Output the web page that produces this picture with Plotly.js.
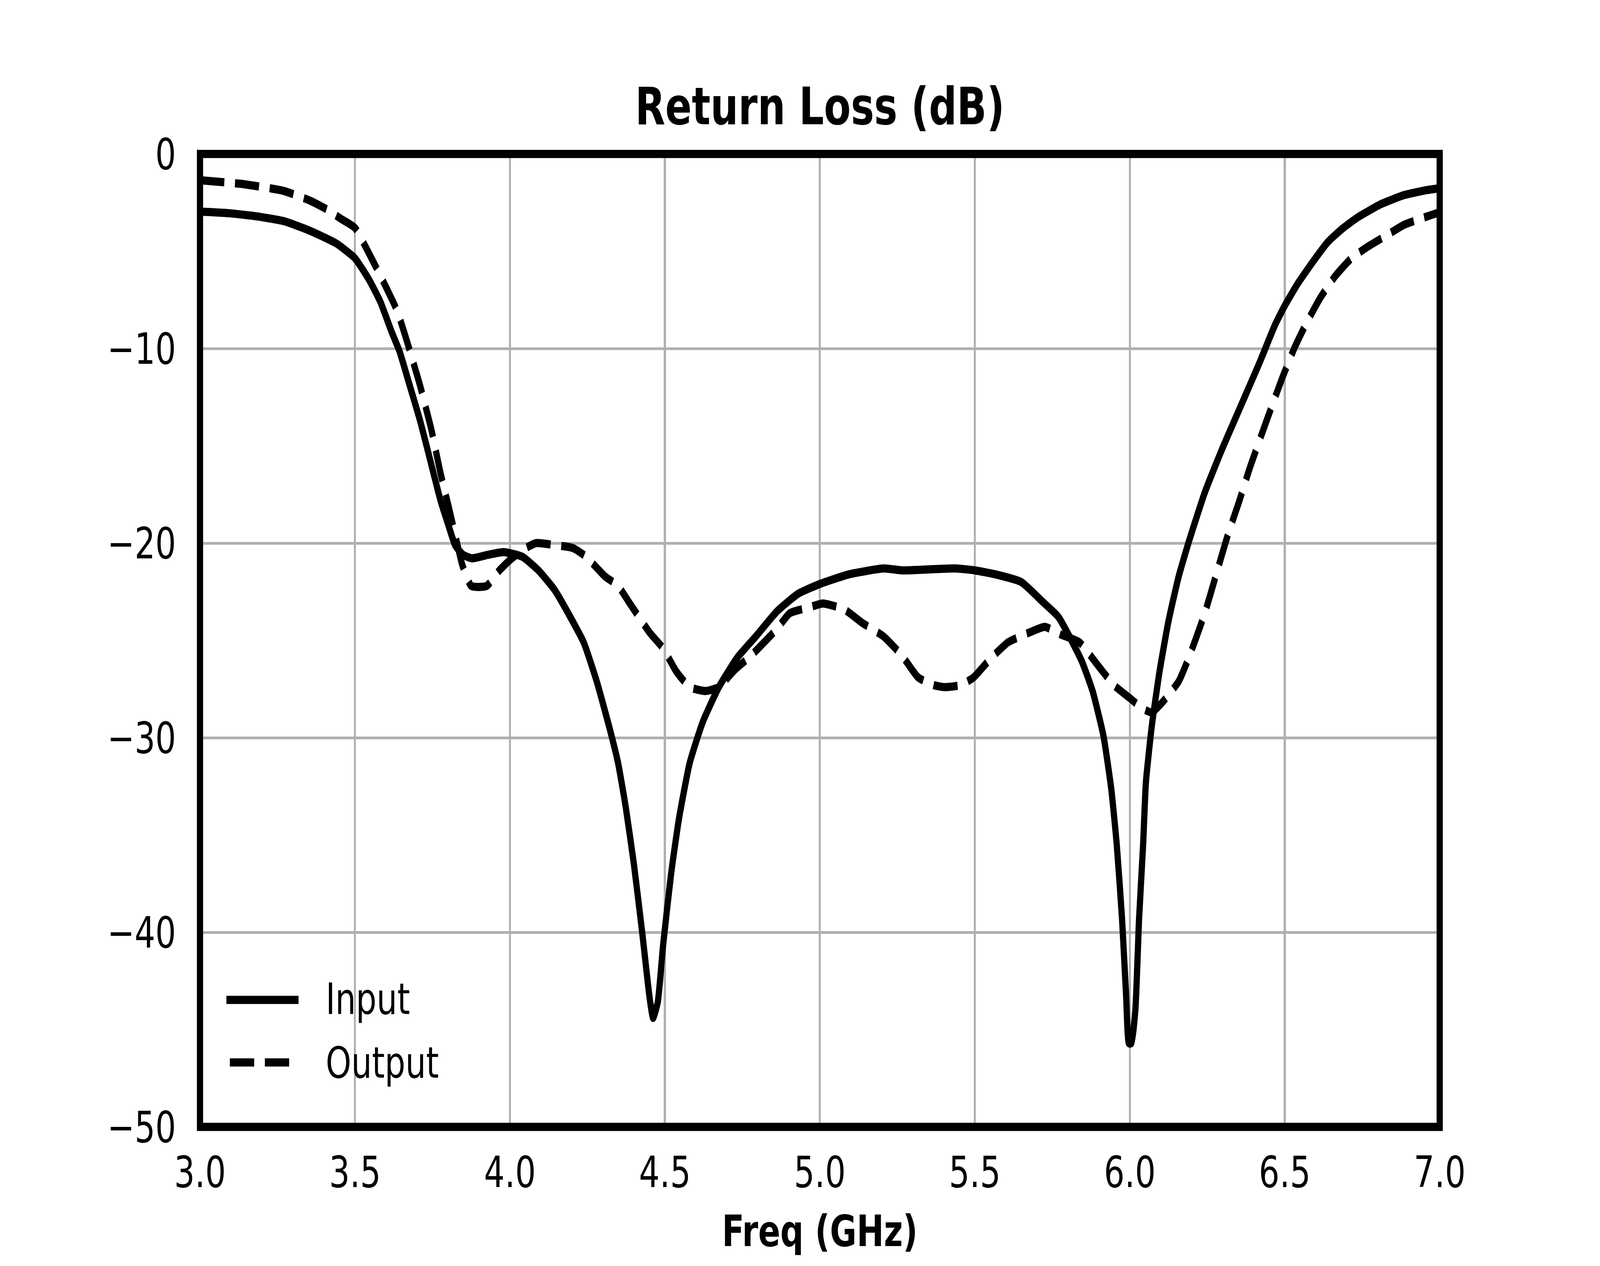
<!DOCTYPE html>
<html>
<head>
<meta charset="utf-8">
<script src="https://cdn.plot.ly/plotly-3.0.1.min.js"></script>
<style>
  html, body { margin:0; padding:0; background:#fff; overflow:hidden; }
  #chart { width:5400px; height:3240px; transform-origin:0 0; }
</style>
</head>
<body>
<div id="chart"></div>
<script>
// ═══════════════════════════════════════════
//  DATA — return loss
// ═══════════════════════════════════════════
const freqInput = [
  3.00, 3.09, 3.18, 3.27, 3.355, 3.44, 3.50, 3.545, 3.582, 3.618, 3.644, 3.673, 3.71, 3.747, 3.776,
  3.802, 3.823, 3.849, 3.878, 3.929, 3.98, 4.04, 4.092, 4.144, 4.195, 4.238, 4.28, 4.323, 4.349,
  4.374, 4.40, 4.426, 4.451, 4.462, 4.477, 4.494, 4.52, 4.545, 4.58, 4.622, 4.674, 4.733, 4.793,
  4.862, 4.93, 5.00, 5.095, 5.206, 5.266, 5.351, 5.437, 5.50, 5.565, 5.65, 5.718, 5.77, 5.812,
  5.846, 5.88, 5.915, 5.94, 5.958, 5.975, 5.988, 5.997, 6.005, 6.018, 6.03, 6.043, 6.052, 6.071,
  6.096, 6.125, 6.158, 6.191, 6.242, 6.297, 6.3705, 6.4194, 6.4682, 6.50, 6.5416, 6.5904, 6.6393,
  6.6882, 6.7371, 6.8104, 6.8837, 6.957, 7.00
];
const rlInput = [
  -2.96, -3.04, -3.2, -3.45, -3.95, -4.6, -5.36, -6.45, -7.6, -9.13, -10.15, -11.7, -13.7, -16.0, -17.8,
  -19.1, -20.1, -20.6, -20.78, -20.6, -20.46, -20.7, -21.4, -22.4, -23.8, -25.1, -27.1, -29.6, -31.3,
  -33.6, -36.5, -39.9, -43.4, -44.4, -43.6, -40.7, -37.0, -34.2, -31.3, -29.2, -27.4, -25.9, -24.8,
  -23.5, -22.6, -22.1, -21.6, -21.3, -21.4, -21.35, -21.3, -21.4, -21.6, -22.0, -23.0, -23.8, -25.0,
  -26.1, -27.6, -29.9, -32.6, -35.5, -39.3, -43.2, -45.7, -45.7, -44.0, -39.3, -35.5, -32.3, -29.4,
  -26.6, -24.0, -21.7, -19.9, -17.4, -15.2, -12.5, -10.7, -8.8, -7.8, -6.67, -5.55, -4.52,
  -3.81, -3.24, -2.58, -2.12, -1.86, -1.76
];

const freqOutput = [
  3.00, 3.14, 3.27, 3.355, 3.415, 3.4535, 3.50, 3.545, 3.60, 3.637, 3.673, 3.71, 3.747, 3.776, 3.802,
  3.831, 3.846, 3.875, 3.925, 3.966, 3.998, 4.041, 4.084, 4.144, 4.203, 4.246, 4.306, 4.349, 4.391,
  4.451, 4.494, 4.537, 4.58, 4.631, 4.674, 4.726, 4.777, 4.82, 4.862, 4.903, 4.967, 5.009, 5.078,
  5.137, 5.206, 5.266, 5.317, 5.368, 5.402, 5.454, 5.496, 5.547, 5.607, 5.675, 5.726, 5.778, 5.838,
  5.898, 5.949, 6.003, 6.041, 6.071, 6.104, 6.158, 6.195, 6.242, 6.279, 6.316, 6.352, 6.389, 6.4438,
  6.4927, 6.5318, 6.566, 6.6149, 6.6637, 6.7126, 6.7615, 6.825, 6.8837, 6.9668, 7.00
];
const rlOutput = [
  -1.35, -1.55, -1.9, -2.4, -2.9, -3.32, -3.8, -5.1, -6.83, -8.1, -9.9, -11.9, -14.2, -16.4, -18.1,
  -20.1, -21.1, -22.2, -22.2, -21.4, -20.9, -20.35, -20.0, -20.1, -20.25, -20.7, -21.7, -22.2, -23.2,
  -24.6, -25.4, -26.6, -27.4, -27.6, -27.4, -26.5, -25.8, -25.1, -24.4, -23.6, -23.3, -23.1, -23.4,
  -24.1, -24.8, -25.8, -26.9, -27.3, -27.4, -27.3, -26.9, -26.0, -25.1, -24.6, -24.3, -24.7, -25.1,
  -26.3, -27.3, -28.0, -28.5, -28.7, -28.2, -27.1, -25.7, -23.6, -21.6, -19.6, -17.9, -16.05, -13.6,
  -11.48, -9.95, -8.82, -7.39, -6.26, -5.4, -4.83, -4.22, -3.65, -3.17, -3.0
];

const seriesNames = ['Input', 'Output'];
const xTicks = [3.0, 3.5, 4.0, 4.5, 5.0, 5.5, 6.0, 6.5, 7.0];
const yTicks = [0, -10, -20, -30, -40, -50];

// ═══════════════════════════════════════════
//  STYLE  (drawn at 5400×3240, squeezed into the window if it is smaller)
// ═══════════════════════════════════════════
const W0 = 5400, H0 = 3240;
const FONT = 'DejaVu Sans';
const LW   = 21;              // curve width
const DASH = '82px,36px';     // mpl-like dashed pattern
const GRID = '#b0b0b0';

const traces = [
  { x: freqInput,  y: rlInput,  name: seriesNames[0], type: 'scatter', mode: 'lines',
    line: { color: '#000', width: LW, shape: 'spline', smoothing: 0.5 } },
  { x: freqOutput, y: rlOutput, name: seriesNames[1], type: 'scatter', mode: 'lines',
    line: { color: '#000', width: LW, dash: DASH, shape: 'spline', smoothing: 0.5 } },
];

const axisBase = {
  showgrid: true, gridcolor: GRID, gridwidth: 7,
  zeroline: false, showline: false, ticks: '',
  tickfont: { family: FONT, size: 110, color: '#000' },
  fixedrange: true,
};

// legend drawn by hand so the handles keep matplotlib proportions
const legendShapes = [
  { type: 'line', xref: 'paper', yref: 'paper', x0: 0.0213, x1: 0.0795, y0: 0.1305, y1: 0.1305,
    line: { color: '#000', width: LW } },
  { type: 'line', xref: 'paper', yref: 'paper', x0: 0.0241, x1: 0.0719, y0: 0.0663, y1: 0.0663,
    line: { color: '#000', width: LW, dash: DASH } },
];
const legendLabels = seriesNames.map((n, i) => ({
  text: n, xref: 'paper', yref: 'paper', x: 0.1009, y: i === 0 ? 0.1313 : 0.0659,
  xanchor: 'left', yanchor: 'middle', showarrow: false,
  font: { family: FONT, size: 110, color: '#000' },
}));

const layout = {
  width: W0, height: H0,
  paper_bgcolor: '#fff', plot_bgcolor: '#fff',
  margin: { l: 675, r: 541, t: 394, b: 356, pad: 0 },
  showlegend: false,
  font: { family: FONT, color: '#000' },
  title: {
    text: 'Return Loss (dB)', x: 0.5, xref: 'paper', xanchor: 'center',
    y: 1 - 318 / H0, yref: 'container', yanchor: 'bottom',
    font: { family: FONT, size: 132, weight: 'bold', color: '#000' },
  },
  xaxis: Object.assign({}, axisBase, {
    range: [3, 7], tickvals: xTicks, tickformat: '.1f', ticklabelstandoff: 43,
    title: { text: 'Freq (GHz)', standoff: 49,
             font: { family: FONT, size: 110, weight: 'bold', color: '#000' } },
  }),
  yaxis: Object.assign({}, axisBase, {
    range: [-50, 0], tickvals: yTicks, ticklabelstandoff: 80,
  }),
  shapes: [
    // axes frame, stroke centred on the plot edge like mpl spines
    { type: 'rect', xref: 'paper', yref: 'paper', x0: 0, x1: 1, y0: 0, y1: 1,
      line: { color: '#000', width: 21 }, layer: 'above' },
    ...legendShapes,
  ],
  annotations: legendLabels,
};

// the window can come out smaller than asked; keep the whole figure in view
const el = document.getElementById('chart');
const kx = Math.min(1, (window.innerWidth  || W0) / W0);
const ky = Math.min(1, (window.innerHeight || H0) / H0);
if (kx < 1 || ky < 1) el.style.transform = `scale(${kx},${ky})`;

Plotly.newPlot(el, traces, layout, { displayModeBar: false, staticPlot: true });
</script>
</body>
</html>
